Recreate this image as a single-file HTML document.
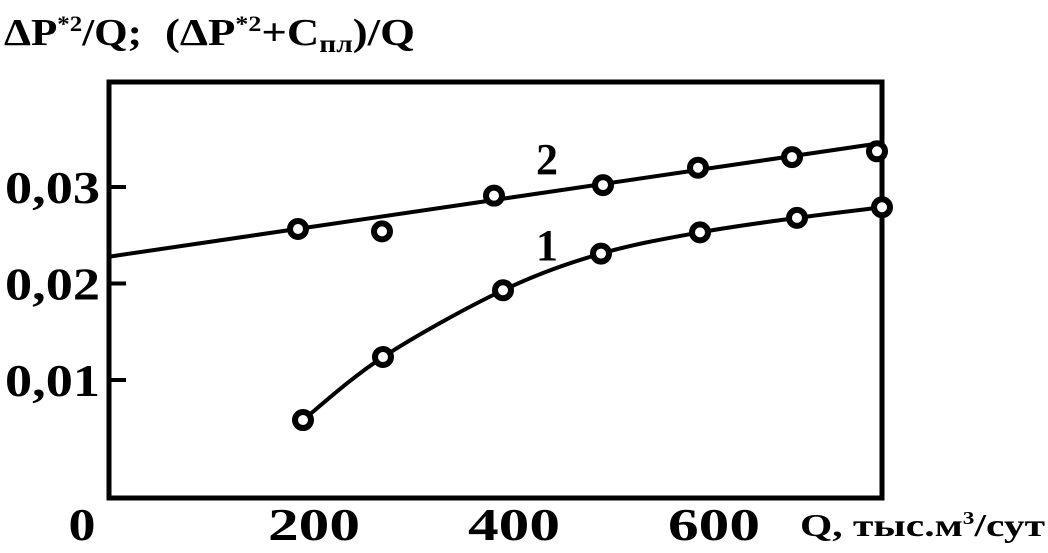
<!DOCTYPE html>
<html><head><meta charset="utf-8"><style>
html,body{margin:0;padding:0;background:#fff;}
svg text{font-family:"Liberation Serif",serif;font-weight:bold;fill:#000;}
</style></head><body>
<svg width="1048" height="548" viewBox="0 0 1048 548">
<text x="4" y="45" font-size="38" textLength="138" lengthAdjust="spacingAndGlyphs">ΔP<tspan dy="-14" font-size="22">*2</tspan><tspan dy="14">/Q;</tspan></text>
<text x="165" y="45" font-size="38" textLength="250" lengthAdjust="spacingAndGlyphs">(ΔP<tspan dy="-14" font-size="22">*2</tspan><tspan dy="14">+C</tspan><tspan dy="7" font-size="25">пл</tspan><tspan dy="-7">)/Q</tspan></text>
<rect x="109" y="82" width="773" height="416" fill="none" stroke="#000" stroke-width="5"/>
<g id="ticks"></g>
<g id="series"></g>
<text x="536" y="174" font-size="44">2</text>
<text x="536" y="260" font-size="44">1</text>
<text x="800" y="536" font-size="32" textLength="245" lengthAdjust="spacingAndGlyphs">Q, тыс.м<tspan dy="-12" font-size="18">3</tspan><tspan dy="12">/сут</tspan></text>
</svg>
<script>
const xTicks=[0,200,400,600];
const yTicks=[0.01,0.02,0.03];
const yTickLabels=["0,01","0,02","0,03"];
const s1Q=[200,280,400,498,597,694,779];
const s1V=[0.00585,0.01238,0.0193,0.0231,0.0253,0.0268,0.0279];
const s2Q=[195,279,391,500,595,689,774];
const s2V=[0.02565,0.0254,0.0291,0.0302,0.0320,0.0331,0.0337];
const line2Q=[4,781];
const line2V=[0.02275,0.0346];
const xs=q=>103+q;
const ys=v=>476.5-v*9650;
const NS="http://www.w3.org/2000/svg";
const tk=document.getElementById('ticks'), sr=document.getElementById('series');
function mk(tag,attrs,parent){const e=document.createElementNS(NS,tag);for(const k in attrs)e.setAttribute(k,attrs[k]);parent.appendChild(e);return e;}
xTicks.forEach(q=>{
  const s=String(q);
  const t=mk('text',{x:q===0?xs(q)-21:xs(q)+11,y:540,'font-size':46,'text-anchor':'middle',textLength:q===0?27:92,lengthAdjust:'spacingAndGlyphs'},tk);
  t.textContent=s;
  
  
});
yTicks.forEach((v,i)=>{
  const l=mk('line',{x1:109,x2:126,y1:ys(v),y2:ys(v),stroke:'#000','stroke-width':4},tk);
  
  
  const t=mk('text',{x:5,y:ys(v)+16,'font-size':46,textLength:95,lengthAdjust:'spacingAndGlyphs'},tk);
  t.textContent=yTickLabels[i];
  
  
});
const l2=mk('line',{x1:xs(line2Q[0]),y1:ys(line2V[0]),x2:xs(line2Q[1]),y2:ys(line2V[1]),stroke:'#000','stroke-width':4},sr);


const p=s1Q.map((q,i)=>[xs(q),ys(s1V[i])]);
let d='M'+p[0][0]+','+p[0][1];
for(let i=0;i<p.length-1;i++){
  const p0=p[i-1]||p[i],p1=p[i],p2=p[i+1],p3=p[i+2]||p2;
  d+=' C'+(p1[0]+(p2[0]-p0[0])/6)+','+(p1[1]+(p2[1]-p0[1])/6)+' '+(p2[0]-(p3[0]-p1[0])/6)+','+(p2[1]-(p3[1]-p1[1])/6)+' '+p2[0]+','+p2[1];
}
const c1=mk('path',{d:d,fill:'none',stroke:'#000','stroke-width':4},sr);


function pts(Q,V,name){Q.forEach((q,i)=>{
  const c=mk('circle',{cx:xs(q),cy:ys(V[i]),r:8,fill:'#fff',stroke:'#000','stroke-width':6},sr);
  
  
});}
pts(s1Q,s1V,'series-1-point');
pts(s2Q,s2V,'series-2-point');
</script>
</body></html>
